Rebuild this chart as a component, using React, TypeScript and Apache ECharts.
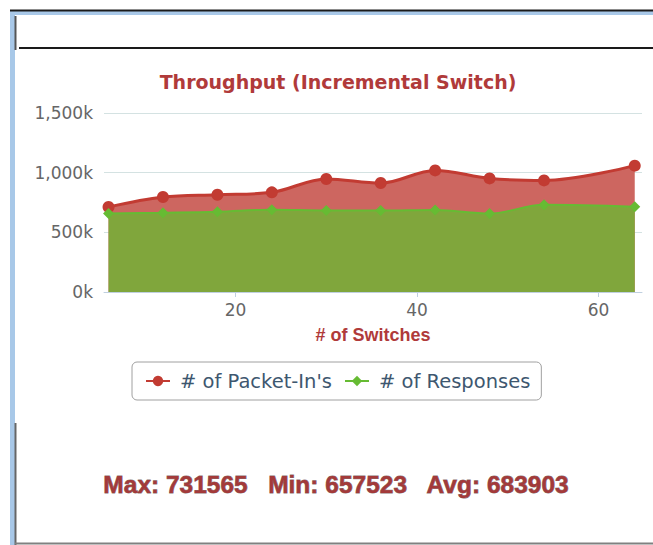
import React, { useEffect, useRef } from "react";
import * as echarts from "echarts";

const switches = [6, 12, 18, 24, 30, 36, 42, 48, 54, 64];
const packetIns = [712000, 796000, 815000, 835000, 947000, 913000, 1019000, 952000, 935000, 1059000];
const responses = [658000, 664000, 672000, 690000, 683000, 683000, 688000, 657523, 731565, 715000];
const xTicks = [20, 40, 60];
const titleText = "Throughput (Incremental Switch)";
const xName = "# of Switches";
const seriesNames = ["# of Packet-In's", "# of Responses"];
const statsText = "Max: 731565   Min: 657523   Avg: 683903";

export default function App() {
  const ref = useRef<HTMLDivElement>(null);
  useEffect(() => {
    if (!ref.current) return;
    const chart = echarts.init(ref.current, null, { renderer: "svg" });
    const font = "DejaVu Sans";
    chart.setOption({
      animation: false,
      title: {
        text: titleText,
        left: 333,
        top: 67,
        textAlign: "center",
        textStyle: { color: "#b03a3a", fontSize: 19, fontWeight: "bold", fontFamily: font },
      },
      grid: { left: 104, right: 11, top: 113, bottom: 253, containLabel: false },
      legend: {
        top: 362,
        left: 132,
        padding: [9, 11, 9, 13],
        borderColor: "#a0a0a0",
        borderWidth: 1,
        borderRadius: 5,
        itemWidth: 24,
        itemHeight: 13,
        itemGap: 12,
        textStyle: { color: "#3e576f", fontSize: 19.5, fontFamily: font, padding: [0, 0, 0, 5] },
      },
      xAxis: {
        type: "value",
        min: 5.5,
        max: 64.8,
        name: xName,
        nameLocation: "middle",
        nameGap: 34,
        nameTextStyle: { color: "#b03a3a", fontSize: 18, fontWeight: "bold", fontFamily: "Liberation Sans" },
        axisLine: { lineStyle: { color: "#c0d0e0", width: 1 } },
        axisTick: { show: true, length: 5, customValues: xTicks, lineStyle: { color: "#c0d0e0" } },
        axisLabel: { customValues: xTicks, color: "#666", fontSize: 17, fontFamily: font, margin: 9 },
        splitLine: { show: false },
      },
      yAxis: {
        type: "value",
        min: 0,
        max: 1500000,
        interval: 500000,
        axisLine: { show: false },
        axisTick: { show: false },
        axisLabel: {
          color: "#666",
          fontSize: 17,
          fontFamily: font,
          margin: 11,
          formatter: (v: number) => (v / 1000).toLocaleString("en-US") + "k",
        },
        splitLine: { lineStyle: { color: "#d4e2e2", width: 1 } },
      },
      series: [
        {
          name: seriesNames[0],
          type: "line",
          smooth: 0.35,
          data: switches.map((x, i) => [x, packetIns[i]]),
          symbol: "circle",
          symbolSize: 12,
          itemStyle: { color: "#c23b32" },
          lineStyle: { color: "#c23b32", width: 3 },
          areaStyle: { color: "#cd6660", opacity: 1 },
          z: 2,
        },
        {
          name: seriesNames[1],
          type: "line",
          smooth: 0.35,
          data: switches.map((x, i) => [x, responses[i]]),
          symbol: "diamond",
          symbolSize: 11,
          itemStyle: { color: "#66bb33" },
          lineStyle: { color: "#66bb33", width: 2 },
          areaStyle: { color: "#80a63c", opacity: 1 },
          z: 3,
        },
      ],
      graphic: [
        { type: "rect", shape: { x: 10, y: 11, width: 5, height: 534 }, style: { fill: "#a8c8e8" }, silent: true },
        { type: "rect", shape: { x: 10, y: 11, width: 643, height: 4 }, style: { fill: "#a8c8e8" }, silent: true },
        { type: "line", shape: { x1: 10, y1: 10.5, x2: 653, y2: 10.5 }, style: { stroke: "#1a1a1a", lineWidth: 2 }, silent: true },
        { type: "line", shape: { x1: 15.5, y1: 16, x2: 15.5, y2: 50 }, style: { stroke: "#555", lineWidth: 2 }, silent: true },
        { type: "line", shape: { x1: 19, y1: 48, x2: 653, y2: 48 }, style: { stroke: "#1a1a1a", lineWidth: 2 }, silent: true },
        { type: "line", shape: { x1: 15.5, y1: 423, x2: 15.5, y2: 545 }, style: { stroke: "#666", lineWidth: 2 }, silent: true },
        { type: "line", shape: { x1: 15, y1: 543.5, x2: 653, y2: 543.5 }, style: { stroke: "#808080", lineWidth: 2 }, silent: true },
        {
          type: "text",
          x: 336,
          y: 484,
          style: {
            text: statsText,
            fill: "#a33a3a",
            stroke: "rgba(50,10,10,0.6)",
            lineWidth: 0.9,
            font: "bold 24.5px 'Liberation Sans'",
            textAlign: "center",
            textVerticalAlign: "middle",
          },
          silent: true,
        },
      ],
    });
    return () => chart.dispose();
  }, []);
  return <div ref={ref} style={{ position: "absolute", left: 0, top: 0, width: 653, height: 545 }} />;
}
